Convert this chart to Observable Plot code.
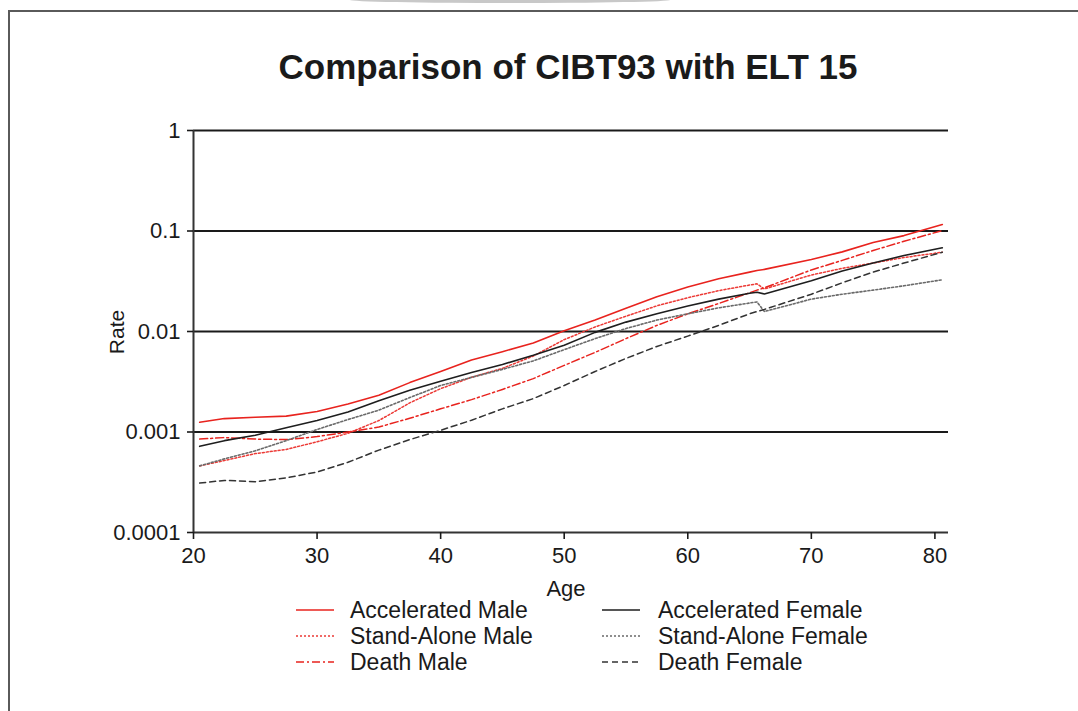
<!DOCTYPE html>
<html><head><meta charset="utf-8">
<script src="https://cdn.jsdelivr.net/npm/d3@7"></script>
<script src="https://cdn.jsdelivr.net/npm/@observablehq/plot@0.6"></script>
<style>
html,body{margin:0;padding:0;background:#fff;width:1078px;height:711px;overflow:hidden;font-family:"Liberation Sans",Arial,sans-serif;color:#1a1a1a}
#frame{position:absolute;left:8px;top:10px;width:1090px;height:720px;border-left:2px solid #5a5a5a;border-top:2px solid #5a5a5a;box-sizing:border-box}
#blob{position:absolute;left:350px;top:-3px;width:320px;height:6px;border-radius:50%;background:#c8c8c8}
#chart{position:absolute;left:0;top:0}
#overlay{position:absolute;left:0;top:0;pointer-events:none}
</style>
</head><body>
<div id="blob"></div>
<div id="frame"></div>
<div id="chart"></div>
<svg id="overlay" width="1078" height="711" font-family="'Liberation Sans',Arial,sans-serif" fill="#1a1a1a"></svg>
<script>
// ---- data ----
const ages = [20.5, 22.5, 25, 27.5, 30, 32.5, 35, 37.5, 40, 42.5, 45, 47.5, 50, 52.5, 55, 57.5, 60, 62.5, 65, 65.6, 66.2, 70, 72.5, 75, 77.5, 80.6];
const acceleratedMale   = [0.00125,0.00136,0.0014,0.00144,0.0016,0.0019,0.00232,0.0031,0.0040,0.0052,0.0063,0.0077,0.0102,0.0130,0.0170,0.0222,0.0277,0.0335,0.0390,0.0405,0.0415,0.0520,0.0620,0.0770,0.0900,0.116];
const standAloneMale    = [0.00046,0.00052,0.00061,0.00067,0.00080,0.00097,0.00130,0.00195,0.0027,0.0035,0.0043,0.0057,0.0083,0.0111,0.0142,0.0180,0.0217,0.0255,0.0290,0.0298,0.0265,0.0365,0.0425,0.0480,0.0545,0.0615];
const deathMale         = [0.00085,0.00088,0.00085,0.00084,0.00090,0.00100,0.00112,0.00137,0.00170,0.00210,0.00265,0.00340,0.00460,0.00620,0.0085,0.0115,0.0150,0.0190,0.0243,0.0258,0.0272,0.0410,0.0510,0.0640,0.0790,0.101];
const acceleratedFemale = [0.00072,0.00082,0.00093,0.0011,0.0013,0.00158,0.00205,0.0026,0.0032,0.0039,0.0047,0.0058,0.0073,0.0098,0.0124,0.0150,0.0179,0.0210,0.0240,0.0246,0.0236,0.0320,0.0400,0.0480,0.0570,0.068];
const standAloneFemale  = [0.00046,0.00054,0.00065,0.00082,0.00106,0.00133,0.00165,0.0022,0.0029,0.0035,0.0042,0.0051,0.0066,0.0085,0.0107,0.0130,0.0150,0.0172,0.0192,0.0197,0.0158,0.0210,0.0235,0.0258,0.0285,0.0327];
const deathFemale       = [0.00031,0.00033,0.00032,0.00035,0.00040,0.00050,0.00066,0.00084,0.00104,0.00131,0.00170,0.00215,0.00290,0.00400,0.0054,0.0071,0.0090,0.0115,0.0150,0.0158,0.0166,0.0235,0.0305,0.0390,0.0480,0.0615];
const seriesNames = ["Accelerated Male","Stand-Alone Male","Death Male","Accelerated Female","Stand-Alone Female","Death Female"];
const seriesValues = [acceleratedMale, standAloneMale, deathMale, acceleratedFemale, standAloneFemale, deathFemale];
const xTicks = [20, 30, 40, 50, 60, 70, 80];
const yTicks = [0.0001, 0.001, 0.01, 0.1, 1];
const yTickLabels = ["0.0001", "0.001", "0.01", "0.1", "1"];
const gridLevels = [1, 0.1, 0.01, 0.001];
const titleText = "Comparison of CIBT93 with ELT 15";
const xLabel = "Age";
const yLabel = "Rate";

// ---- styles ----
const seriesStyle = {
  "Accelerated Male":   {stroke: "#e8231e", dash: null, width: 1.6},
  "Stand-Alone Male":   {stroke: "#ec3a36", dash: "2,2", width: 1.5},
  "Death Male":         {stroke: "#e8231e", dash: "8,3,2,3", width: 1.5},
  "Accelerated Female": {stroke: "#1e1e1e", dash: null, width: 1.6},
  "Stand-Alone Female": {stroke: "#6a6a6a", dash: "2,2", width: 1.6},
  "Death Female":       {stroke: "#333333", dash: "6,4", width: 1.5}
};

const rows = seriesNames.flatMap((s, k) => ages.map((a, i) => ({series: s, age: a, rate: seriesValues[k][i]})));

const font = "'Liberation Sans', Arial, sans-serif";
const chart = Plot.plot({
  width: 1078, height: 711,
  marginLeft: 193, marginRight: 130, marginTop: 130, marginBottom: 179,
  style: {fontFamily: font, fontSize: "22px", color: "#1a1a1a", background: "transparent", overflow: "visible"},
  x: {domain: [20, 81.1]},
  y: {type: "log", domain: [0.0001, 1]},
  marks: [
    Plot.ruleY(gridLevels, {stroke: "#1a1a1a", strokeWidth: 1.8}),
    Plot.ruleY([yTicks[0]], {stroke: "#333", strokeWidth: 2}),
    Plot.ruleX([xTicks[0]], {stroke: "#333", strokeWidth: 2}),
    ...seriesNames.map(s => Plot.line(rows.filter(d => d.series === s), {
      x: "age", y: "rate",
      stroke: seriesStyle[s].stroke,
      strokeWidth: seriesStyle[s].width,
      strokeDasharray: seriesStyle[s].dash
    })),
    Plot.axisX({ticks: xTicks, tickSize: 7, tickPadding: 8, label: null, fontSize: 22, strokeWidth: 1.6, tickFormat: d => String(d)}),
    Plot.axisY({ticks: yTicks, tickSize: 6, tickPadding: 7, label: null, fontSize: 22, strokeWidth: 1.6, tickFormat: d => yTickLabels[yTicks.indexOf(d)]})
  ]
});
document.getElementById("chart").appendChild(chart);

// ---- title, axis labels, legend ----
const ov = d3.select("#overlay");
ov.append("text").attr("x", 568).attr("y", 79).attr("text-anchor", "middle")
  .attr("font-size", 35).attr("font-weight", "bold").text(titleText);
ov.append("text").attr("x", 566).attr("y", 596).attr("text-anchor", "middle")
  .attr("font-size", 22).text(xLabel);
ov.append("text").attr("transform", "translate(124,332) rotate(-90)").attr("text-anchor", "middle")
  .attr("font-size", 21).text(yLabel);

seriesNames.forEach((s, k) => {
  const col = k < 3 ? 0 : 1, row = k % 3;
  const lx = col === 0 ? 296 : 602;
  const tx = col === 0 ? 350 : 658;
  const ly = 610 + row * 26;
  const st = seriesStyle[s];
  ov.append("line").attr("x1", lx).attr("x2", lx + 38).attr("y1", ly).attr("y2", ly)
    .attr("stroke", st.stroke).attr("stroke-width", st.width)
    .attr("stroke-dasharray", st.dash);
  ov.append("text").attr("x", tx).attr("y", ly + 8).attr("font-size", 23).text(s);
});
</script>
</body></html>
